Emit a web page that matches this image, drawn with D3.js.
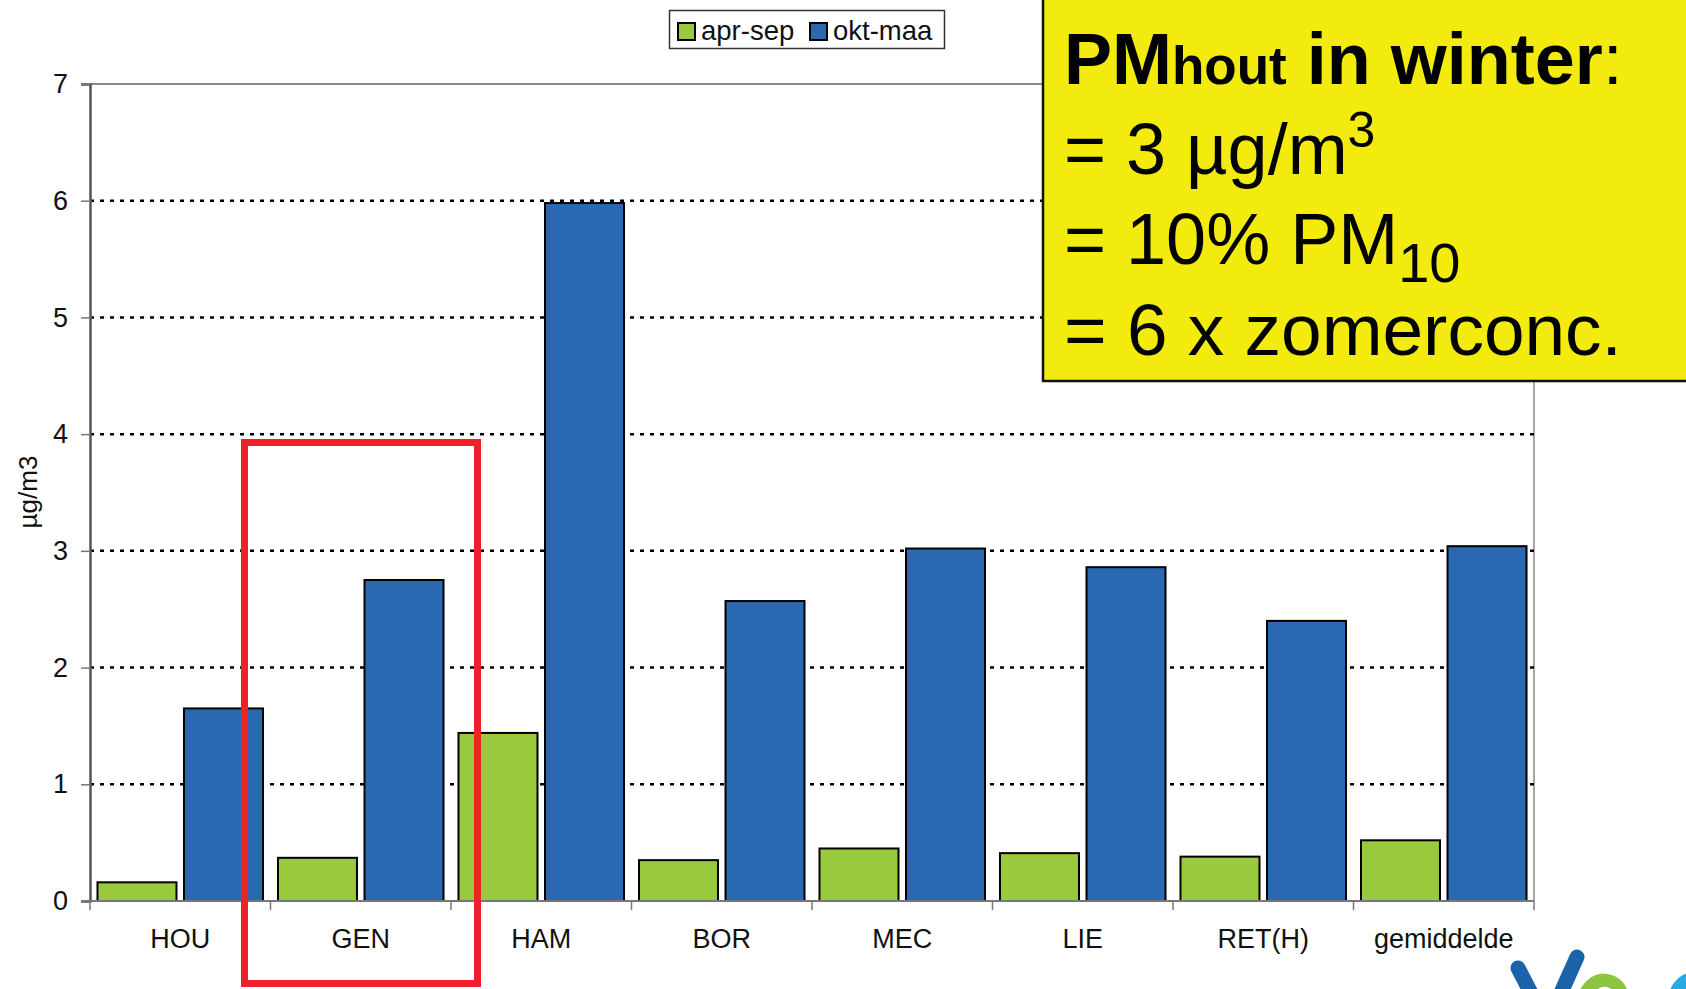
<!DOCTYPE html>
<head>
	<meta charset="utf-8">
	<script src="https://d3js.org/d3.v7.min.js"></script>
	<style>
	    body { margin: 0; background: #fff; }
	    svg { display: block; font-family: "Liberation Sans", Arial, sans-serif; }
	</style>
</head>
<body>
    <script>
        // chart data
        var categories = ["HOU", "GEN", "HAM", "BOR", "MEC", "LIE", "RET(H)", "gemiddelde"];
        var series = ["apr-sep", "okt-maa"];
        var aprSep = [0.16, 0.37, 1.44, 0.35, 0.45, 0.41, 0.38, 0.52];
        var oktMaa = [1.65, 2.75, 5.98, 2.57, 3.02, 2.86, 2.40, 3.04];
        var yTicks = [0, 1, 2, 3, 4, 5, 6, 7];
        var colors = ["#99c93c", "#2a69b2"];

        var w = 1686, h = 989;
        var plot = {left: 90, right: 1534, top: 84, bottom: 901};

        var rows = categories.map(function(c, i) {
        	return {cat: c, values: [aprSep[i], oktMaa[i]]};
        });

        var svg = d3.select("body").append("svg")
        	.attr("width", w)
        	.attr("height", h);

        var y = d3.scaleLinear()
        	.domain([0, 7])
        	.range([plot.bottom, plot.top]);

        var x0 = d3.scaleBand()
        	.domain(categories)
        	.range([plot.left, plot.right])
        	.paddingInner(0.083)
        	.paddingOuter(0.0415);

        var x1 = d3.scaleBand()
        	.domain(series)
        	.range([0, x0.bandwidth()])
        	.paddingInner(0.087);

        // plot border (top + right)
        svg.append("line")
        	.attr("x1", plot.left).attr("x2", plot.right)
        	.attr("y1", y(7)).attr("y2", y(7))
        	.attr("stroke", "#8a8a8a").attr("stroke-width", 2);
        svg.append("line")
        	.attr("x1", plot.right).attr("x2", plot.right)
        	.attr("y1", y(7)).attr("y2", y(0))
        	.attr("stroke", "#8a8a8a").attr("stroke-width", 1.5);

        // dotted gridlines
        svg.append("g").selectAll("line")
        	.data(yTicks.filter(function(d) { return d > 0 && d < 7; }))
        	.enter()
        	.append("line")
        	.attr("x1", plot.left).attr("x2", plot.right)
        	.attr("y1", function(d) { return y(d); })
        	.attr("y2", function(d) { return y(d); })
        	.attr("stroke", "#000")
        	.attr("stroke-width", 2.5)
        	.attr("stroke-dasharray", "4,6");

        // bars
        var groups = svg.append("g").selectAll("g")
        	.data(rows)
        	.enter()
        	.append("g")
        	.attr("transform", function(d) { return "translate(" + x0(d.cat) + ",0)"; });

        groups.selectAll("rect")
        	.data(function(d) { return d.values.map(function(v, i) { return {s: series[i], v: v, i: i}; }); })
        	.enter()
        	.append("rect")
        	.attr("x", function(d) { return x1(d.s); })
        	.attr("y", function(d) { return y(d.v); })
        	.attr("width", x1.bandwidth())
        	.attr("height", function(d) { return y(0) - y(d.v); })
        	.attr("fill", function(d) { return colors[d.i]; })
        	.attr("stroke", "#000")
        	.attr("stroke-width", 2);

        // y axis
        var yAxis = svg.append("g")
        	.attr("transform", "translate(" + plot.left + ",0)")
        	.call(d3.axisLeft(y).tickValues(yTicks).tickSize(9).tickPadding(13).tickFormat(d3.format("d")));
        yAxis.select(".domain").attr("stroke", "#555").attr("stroke-width", 2.5);
        yAxis.selectAll(".tick line").attr("stroke", "#777").attr("stroke-width", 1.5);
        yAxis.selectAll(".tick text")
        	.attr("font-size", 27)
        	.attr("fill", "#111")
        	.attr("font-family", "Liberation Sans, Arial, sans-serif");

        // x axis baseline + boundary ticks
        svg.append("line")
        	.attr("x1", plot.left).attr("x2", plot.right)
        	.attr("y1", y(0)).attr("y2", y(0))
        	.attr("stroke", "#777").attr("stroke-width", 2);
        var bounds = categories.map(function(c) { return x0(c) - x0.step() * x0.paddingOuter(); });
        bounds.push(plot.right);
        svg.append("g").selectAll("line")
        	.data(bounds)
        	.enter()
        	.append("line")
        	.attr("x1", function(d) { return d; }).attr("x2", function(d) { return d; })
        	.attr("y1", y(0)).attr("y2", y(0) + 9)
        	.attr("stroke", "#777").attr("stroke-width", 1.5);

        var xAxis = svg.append("g")
        	.attr("transform", "translate(0," + y(0) + ")")
        	.call(d3.axisBottom(x0).tickSize(0).tickPadding(28));
        xAxis.select(".domain").remove();
        xAxis.selectAll(".tick text")
        	.attr("font-size", 27)
        	.attr("fill", "#111")
        	.attr("font-family", "Liberation Sans, Arial, sans-serif");

        // y axis title
        svg.append("text")
        	.attr("transform", "translate(37,492) rotate(-90)")
        	.attr("text-anchor", "middle")
        	.attr("font-size", 26)
        	.attr("fill", "#111")
        	.text("µg/m3");

        // legend
        var legend = svg.append("g");
        legend.append("rect")
        	.attr("x", 669.5).attr("y", 10.5)
        	.attr("width", 275).attr("height", 38)
        	.attr("fill", "#fff").attr("stroke", "#333").attr("stroke-width", 1.5);
        var legX = [678, 810];
        series.forEach(function(s, i) {
        	legend.append("rect")
        		.attr("x", legX[i]).attr("y", 23)
        		.attr("width", 17).attr("height", 17)
        		.attr("fill", colors[i]).attr("stroke", "#000").attr("stroke-width", 2);
        	legend.append("text")
        		.attr("x", legX[i] + 23).attr("y", 40)
        		.attr("font-size", 27.5)
        		.attr("fill", "#111")
        		.text(s);
        });

        // red highlight frame round GEN
        svg.append("rect")
        	.attr("x", 244.5).attr("y", 442.5)
        	.attr("width", 233).attr("height", 541)
        	.attr("fill", "none")
        	.attr("stroke", "#ee2228")
        	.attr("stroke-width", 7);

        // yellow note box
        svg.append("rect")
        	.attr("x", 1043).attr("y", -4)
        	.attr("width", 700).attr("height", 385)
        	.attr("fill", "#f3eb0e")
        	.attr("stroke", "#111")
        	.attr("stroke-width", 2.5);

        var l1 = svg.append("text")
        	.attr("x", 1064).attr("y", 84)
        	.attr("fill", "#000")
        	.attr("font-weight", "bold");
        l1.append("tspan").attr("font-size", 72).text("PM");
        l1.append("tspan").attr("font-size", 53).text("hout");
        l1.append("tspan").attr("font-size", 72).text(" in winter");
        l1.append("tspan").attr("font-size", 72).attr("font-weight", "normal").text(":");

        var l2 = svg.append("text")
        	.attr("x", 1064).attr("y", 174)
        	.attr("font-size", 72).attr("fill", "#000");
        l2.append("tspan").text("= 3 µg/m");
        l2.append("tspan").attr("font-size", 50).attr("dy", -27).text("3");

        var l3 = svg.append("text")
        	.attr("x", 1064).attr("y", 264)
        	.attr("font-size", 72).attr("fill", "#000");
        l3.append("tspan").text("= 10% PM");
        l3.append("tspan").attr("font-size", 56).attr("dy", 18).text("10");

        svg.append("text")
        	.attr("x", 1064).attr("y", 355)
        	.attr("font-size", 73).attr("fill", "#000")
        	.text("= 6 x zomerconc.");

        // corner logo fragment (bottom right)
        var logo = svg.append("g").attr("fill", "none").attr("stroke-linecap", "round");
        logo.append("path").attr("d", "M1518,968 L1532,995")
        	.attr("stroke", "#1b63a9").attr("stroke-width", 15);
        logo.append("path").attr("d", "M1577,957 L1560,995")
        	.attr("stroke", "#1b63a9").attr("stroke-width", 15);
        logo.append("path").attr("d", "M1584,995 Q1596,975 1612,982 Q1620,986 1622,995")
        	.attr("stroke", "#8cc63f").attr("stroke-width", 13);
        logo.append("path").attr("d", "M1675,995 Q1680,980 1694,978")
        	.attr("stroke", "#29aae1").attr("stroke-width", 13);

    </script>
</body>
